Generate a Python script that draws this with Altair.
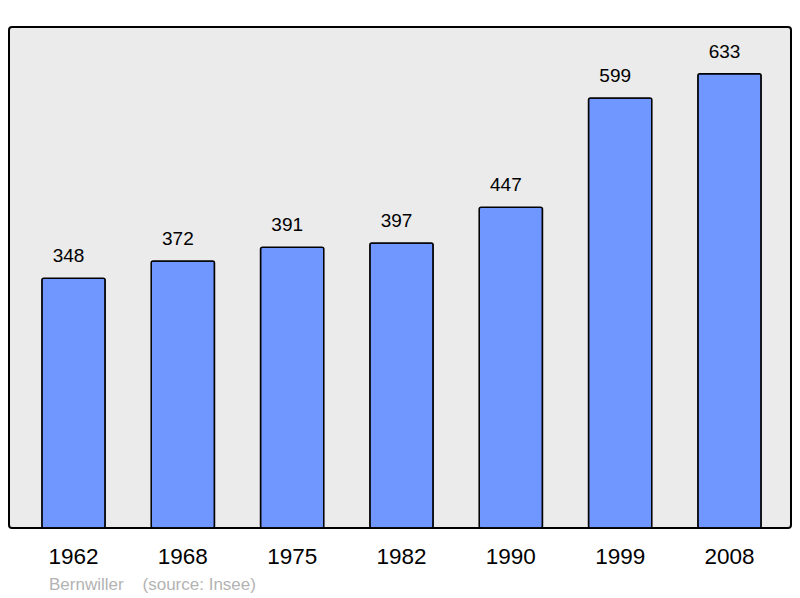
import altair as alt
import pandas as pd

years = ["1962", "1968", "1975", "1982", "1990", "1999", "2008"]
population = [348, 372, 391, 397, 447, 599, 633]
footer = ["Bernwiller\u00a0\u00a0\u00a0\u00a0(source: Insee)"]

df = pd.DataFrame({"year": years, "pop": population})
fdf = pd.DataFrame({"t": footer})

FONT = "Liberation Sans"

x = alt.X("year:N", sort=years, title=None,
          scale=alt.Scale(paddingInner=0.421, paddingOuter=0.2868, align=0.524),
          axis=alt.Axis(labelAngle=0, labelFontSize=22.5, labelFont=FONT,
                        labelColor="#000000", domain=False, ticks=False,
                        tickSize=0, labelPadding=17, grid=False))
y = alt.Y("pop:Q", title=None, scale=alt.Scale(domain=[0, 698], nice=False, zero=True),
          axis=None)

bars = alt.Chart(df).mark_bar(color="#7097ff", stroke="#000000", strokeWidth=1.5,
                              cornerRadius=2).encode(x=x, y=y)
labels = alt.Chart(df).mark_text(baseline="alphabetic", dy=-16, dx=-5, fontSize=19,
                                 font=FONT, color="#000000").encode(
    x=alt.X("year:N", sort=years), y="pop:Q", text="pop:Q")
foot = alt.Chart(fdf).mark_text(align="left", baseline="alphabetic", fontSize=17,
                                font=FONT, color="#b3b3b3").encode(
    x=alt.value(40), y=alt.value(563), text="t:N")

chart = alt.layer(bars, labels, foot).properties(
    width=782, height=501,
    autosize=alt.AutoSizeParams(type="none"),
    padding={"left": 1, "top": 19, "right": 1, "bottom": 68},
    background="#ffffff",
).configure_view(
    fill="#ebebeb", stroke="#000000", strokeWidth=2, cornerRadius=3
)

chart.save("out.html", embed_options={"renderer": "svg", "actions": False})
